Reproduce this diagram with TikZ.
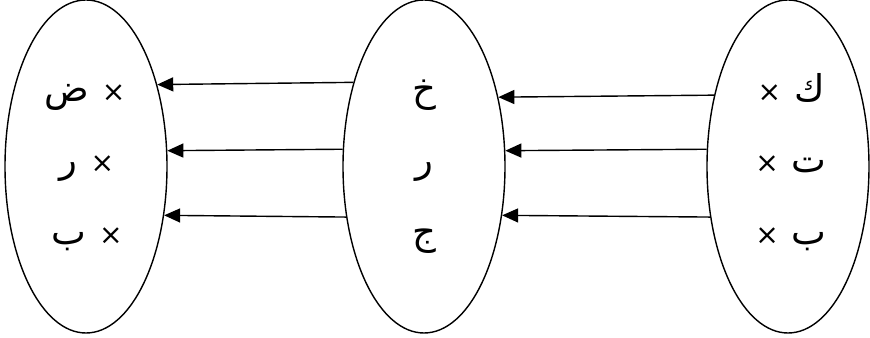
\documentclass[tikz,border=0pt]{standalone}
\usepackage{fontspec}
\usepackage{tikz}
\usetikzlibrary{shapes.geometric, arrows.meta}
\TeXXeTstate=1
\newfontfamily\arabicfont[Script=Arabic]{DejaVu Sans}
\newcommand{\xmark}{{\fontsize{16}{19}\selectfont ×}}

\tikzset{
  setoval/.style={draw, ellipse, line width=0.8pt, inner sep=0pt,
    minimum width=3.24cm, minimum height=6.66cm},
  elem/.style={anchor=base, inner sep=0pt, font=\arabicfont\fontsize{21}{25}\selectfont},
  mapto/.style={line width=0.8pt, -{Triangle[length=3.2mm, width=2.8mm]}}
}

\begin{document}
\begin{tikzpicture}
    \useasboundingbox (0,0) rectangle (17.4,6.76);

    % Left set
    \node[setoval] (left) at (1.72,3.43) {};
    \node[elem] (l1) at (1.70,4.72) {\beginR\xmark\hspace{0.35em}ض\endR};
    \node[elem] (l2) at (1.74,3.30) {\beginR\xmark\hspace{0.35em}ر\endR};
    \node[elem] (l3) at (1.74,1.86) {\beginR\xmark\hspace{0.35em}ب\endR};

    % Middle set
    \node[setoval] (mid) at (8.48,3.43) {};
    \node[elem] (m1) at (8.48,4.72) {\beginR خ\endR};
    \node[elem] (m2) at (8.48,3.30) {\beginR ر\endR};
    \node[elem] (m3) at (8.48,1.86) {\beginR ج\endR};

    % Right set
    \node[setoval] (right) at (15.76,3.43) {};
    \node[elem] (r1) at (15.82,4.72) {\beginR ك\hspace{0.35em}\xmark\endR};
    \node[elem] (r2) at (15.82,3.30) {\beginR ت\hspace{0.35em}\xmark\endR};
    \node[elem] (r3) at (15.82,1.86) {\beginR ب\hspace{0.35em}\xmark\endR};

    % Arrows
    \draw[mapto] (mid.130.6) -- (left.49.4);
    \draw[mapto] (mid.168.8) -- (left.11.2);
    \draw[mapto] (mid.-147.1) -- (left.-32.9);
    \draw[mapto] (right.136.9) -- (mid.43.1);
    \draw[mapto] (right.168.8) -- (mid.11.2);
    \draw[mapto] (right.-147.1) -- (mid.-32.9);
\end{tikzpicture}
\end{document}
